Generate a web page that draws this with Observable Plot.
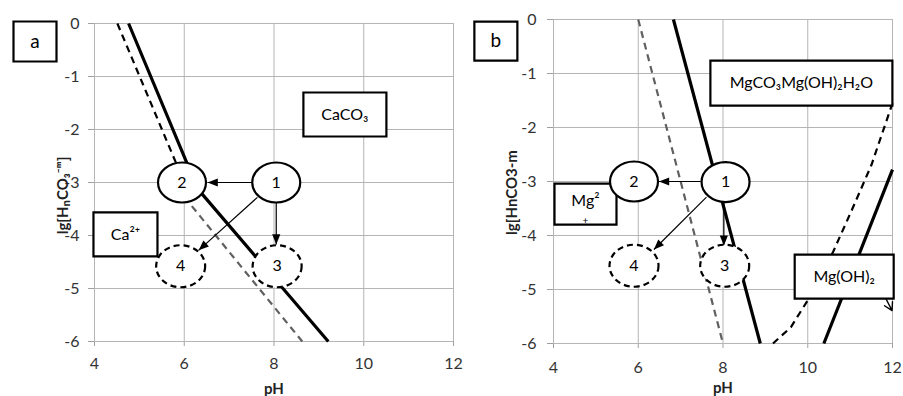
<!DOCTYPE html>
<html><head><meta charset="utf-8">
<script src="https://cdn.jsdelivr.net/npm/d3@7"></script>
<script src="https://cdn.jsdelivr.net/npm/@observablehq/plot@0.6"></script>
<style>
body{margin:0;background:#fff;}
#chart{position:relative;width:903px;height:396px;overflow:hidden;background:#fff;}
#chart > div{position:absolute;top:0;}
</style></head><body><div id="chart"><div id="pa" style="left:0px"></div><div id="pb" style="left:460px"></div></div>
<script>
// ---- axes ----
const xTicks = [4, 6, 8, 10, 12];
const yTicks = [0, -1, -2, -3, -4, -5, -6];
const xLabel = "pH";
const aYLabel = "lg[HₙCO₃⁻ᵐ]";
const bYLabel = "lg[HnCO3-m";

// ---- panel a series ----
const aSolidPH = [4.76, 6.30, 9.21];
const aSolidLg = [0, -3.12, -6];
const aDashPH = [4.51, 6.0];
const aDashLg = [0, -3.0];
const aGrayPH = [6.0, 8.63];
const aGrayLg = [-3.27, -6];

const circleLabels = ["1", "2", "3", "4"];
const aCirclePH = [8.05, 5.95, 8.07, 5.92];
const aCircleLg = [-3.0, -3.0, -4.58, -4.58];

const aArrowFromPH = [7.51, 8.05, 7.63];
const aArrowFromLg = [-3.0, -3.37, -3.28];
const aArrowToPH = [6.52, 8.05, 6.32];
const aArrowToLg = [-3.0, -4.17, -4.28];

const aBoxLabels = ["a", "CaCO₃", "Ca²⁺"];
const aBoxPH = [2.674, 9.58, 4.69];
const aBoxLg = [-0.34, -1.717, -3.98];

// ---- panel b series ----
const bSolid1PH = [6.83, 8.88];
const bSolid1Lg = [0, -6];
const bGrayPH = [6.0, 8.0];
const bGrayLg = [0, -6];
const bSolid2PH = [10.38, 12.0];
const bSolid2Lg = [-6, -2.78];
const bDashPH = [9.18, 9.6, 10.0, 10.6, 11.0, 11.5, 12.0];
const bDashLg = [-6.0, -5.7, -5.2, -4.3, -3.6, -2.7, -1.55];

const bCirclePH = [8.06, 5.90, 8.04, 5.90];
const bCircleLg = [-3.01, -3.0, -4.56, -4.56];

const bArrowFromPH = [7.47, 8.02, 7.61];
const bArrowFromLg = [-3.0, -3.35, -3.29];
const bArrowToPH = [6.49, 8.02, 6.37];
const bArrowToLg = [-3.0, -4.19, -4.26];

const bBoxLabels = ["b", "MgCO₃Mg(OH)₂H₂O", "Mg²⁺", "Mg(OH)₂"];
const bBoxPH = [2.64, 9.85, 4.755, 10.86];
const bBoxLg = [-0.40, -1.18, -3.42, -4.76];

const bPointerPH = [11.7, 11.99];
const bPointerLg = [-4.95, -5.39];

// ---- helpers ----
const pts = (xs, ys) => xs.map((x, i) => ({x, y: ys[i]}));
const FONT = "Lato, 'Open Sans', sans-serif";

// box outer sizes (px)
const boxSize = {
  "a": [45, 42], "CaCO₃": [85, 46], "Ca²⁺": [66, 46],
  "b": [45, 41], "MgCO₃Mg(OH)₂H₂O": [184, 47], "Mg²⁺": [64, 43], "Mg(OH)₂": [101, 46]
};
const ellipseSym = (rx, ry) => ({
  draw(ctx) {
    const k = 0.5523;
    ctx.moveTo(rx, 0);
    ctx.bezierCurveTo(rx, ry * k, rx * k, ry, 0, ry);
    ctx.bezierCurveTo(-rx * k, ry, -rx, ry * k, -rx, 0);
    ctx.bezierCurveTo(-rx, -ry * k, -rx * k, -ry, 0, -ry);
    ctx.bezierCurveTo(rx * k, -ry, rx, -ry * k, rx, 0);
    ctx.closePath();
  }
});
const rectSym = (w, h) => ({ draw(ctx) { ctx.rect(-w / 2, -h / 2, w, h); } });

function boxMarks(labels, xs, ys) {
  const marks = [];
  labels.forEach((lab, i) => {
    const [w, h] = boxSize[lab];
    const d = [{x: xs[i], y: ys[i], label: lab}];
    marks.push(Plot.dot(d, {x: "x", y: "y", r: 10, symbol: rectSym(w - 2, h - 2), fill: "white", stroke: "black", strokeWidth: 2.2}));
    const big = lab.length === 1;
    if (lab === "Mg²⁺") {
      marks.push(Plot.text(d, {x: "x", y: "y", text: () => "Mg²", dy: -3, fontSize: 16, fill: "black", fontFamily: FONT}));
      marks.push(Plot.text(d, {x: "x", y: "y", text: () => "+", dy: 17, fontSize: 10, fill: "black", fontFamily: FONT}));
    } else {
      marks.push(Plot.text(d, {x: "x", y: "y", text: "label", fontSize: big ? 19 : 16, fill: "black", fontFamily: FONT}));
    }
  });
  return marks;
}

function panel(o) {
  const circles = circleLabels.map((l, i) => ({label: l, x: o.cx[i], y: o.cy[i]}));
  const arrows = o.afx.map((v, i) => ({x1: v, y1: o.afy[i], x2: o.atx[i], y2: o.aty[i]}));
  const marks = [
    Plot.ruleX(xTicks, {stroke: "#b5b5b5", strokeWidth: 1}),
    Plot.ruleY(yTicks, {stroke: "#b5b5b5", strokeWidth: 1}),
    ...o.lines.map(L => Plot.line(pts(L.xs, L.ys), {x: "x", y: "y", stroke: L.stroke, strokeWidth: L.w, strokeDasharray: L.dash, strokeLinecap: "butt", strokeLinejoin: "miter"})),
    Plot.link(arrows, {x1: "x1", y1: "y1", x2: "x2", y2: "y2", stroke: "black", strokeWidth: 1.2, markerEnd: "arrow"}),
    ...(o.pointer ? [Plot.arrow([o.pointer], {x1: "x1", y1: "y1", x2: "x2", y2: "y2", stroke: "black", strokeWidth: 1.4, headLength: 11})] : []),
    ...boxMarks(o.boxLabels, o.boxX, o.boxY),
    Plot.dot(circles.filter(c => c.label === "1" || c.label === "2"), {x: "x", y: "y", r: 10, symbol: ellipseSym(24, 20), fill: "white", stroke: "black", strokeWidth: 2.2}),
    Plot.dot(circles.filter(c => c.label === "3" || c.label === "4"), {x: "x", y: "y", r: 10, symbol: ellipseSym(24.5, 21), fill: "white", stroke: "black", strokeWidth: 2.2, strokeDasharray: "6,4"}),
    Plot.text(circles, {x: "x", y: "y", text: "label", fontSize: 16, fill: "black", fontFamily: FONT}),
    Plot.text([o.yLabel], {text: d => d, frameAnchor: "left", textAnchor: "middle", lineAnchor: "middle", dx: o.ylDx, dy: o.ylDy, rotate: -90, fontSize: 15, fontWeight: "bold", fill: "#222", fontFamily: FONT}),
    Plot.text([xLabel], {text: d => d, frameAnchor: "bottom", textAnchor: "middle", lineAnchor: "middle", dy: o.xlDy, fontSize: 15, fontWeight: "bold", fill: "#222", fontFamily: FONT})
  ];
  const svg = Plot.plot({
    width: o.width, height: 396,
    marginLeft: o.ml, marginRight: o.mr, marginTop: o.mt, marginBottom: o.mb,
    style: {fontFamily: FONT, fontSize: "16px", color: "#333", overflow: "visible", background: "transparent"},
    x: {domain: [4, 12], ticks: xTicks, tickSize: 5, tickPadding: o.xPad, tickFormat: d => String(d), label: null},
    y: {domain: [-6, 0], ticks: yTicks, tickSize: 6, tickPadding: o.yPad, tickFormat: d => String(d), label: null},
    marks
  });
  // filled arrowheads
  svg.querySelectorAll("marker").forEach(m => {
    m.setAttribute("viewBox", "-10 -5 12 10");
    m.setAttribute("markerWidth", 12);
    m.setAttribute("markerHeight", 10);
    m.setAttribute("fill", "black");
    m.setAttribute("stroke", "none");
    const p = m.querySelector("path");
    if (p) p.setAttribute("d", "M-8.5,-3.4L0,0L-8.5,3.4Z");
  });
  // gray tick marks
  svg.querySelectorAll('g[aria-label="x-axis tick"], g[aria-label="y-axis tick"], [aria-label="x-axis"] line, [aria-label="y-axis"] line')
    .forEach(e => e.setAttribute("stroke", "#a0a0a0"));
  // tick label size
  svg.querySelectorAll('g[aria-label="x-axis tick label"], g[aria-label="y-axis tick label"], [aria-label="x-axis"] text, [aria-label="y-axis"] text')
    .forEach(e => { e.setAttribute("font-size", 16); e.style.fontSize = "16px"; });
  return svg;
}

document.getElementById("pa").appendChild(panel({
  width: 460, ml: 94, mr: 7, mt: 23, mb: 55, xPad: 11, yPad: 9,
  lines: [
    {xs: aGrayPH, ys: aGrayLg, stroke: "#606060", w: 2.2, dash: "7,5"},
    {xs: aDashPH, ys: aDashLg, stroke: "black", w: 2.2, dash: "7,5"},
    {xs: aSolidPH, ys: aSolidLg, stroke: "black", w: 3.2, dash: null}
  ],
  cx: aCirclePH, cy: aCircleLg,
  afx: aArrowFromPH, afy: aArrowFromLg, atx: aArrowToPH, aty: aArrowToLg,
  boxLabels: aBoxLabels, boxX: aBoxPH, boxY: aBoxLg,
  yLabel: aYLabel, ylDx: -31, ylDy: 13, xlDy: 48
}));

document.getElementById("pb").appendChild(panel({
  width: 443, ml: 93, mr: 11, mt: 19, mb: 53, xPad: 13, yPad: 11,
  lines: [
    {xs: bGrayPH, ys: bGrayLg, stroke: "#606060", w: 2.2, dash: "7,5"},
    {xs: bDashPH, ys: bDashLg, stroke: "black", w: 2.2, dash: "7,5"},
    {xs: bSolid1PH, ys: bSolid1Lg, stroke: "black", w: 3.2, dash: null},
    {xs: bSolid2PH, ys: bSolid2Lg, stroke: "black", w: 3.2, dash: null}
  ],
  cx: bCirclePH, cy: bCircleLg,
  afx: bArrowFromPH, afy: bArrowFromLg, atx: bArrowToPH, aty: bArrowToLg,
  pointer: {x1: bPointerPH[0], y1: bPointerLg[0], x2: bPointerPH[1], y2: bPointerLg[1]},
  boxLabels: bBoxLabels, boxX: bBoxPH, boxY: bBoxLg,
  yLabel: bYLabel, ylDx: -41, ylDy: 11, xlDy: 45
}));
</script></body></html>
